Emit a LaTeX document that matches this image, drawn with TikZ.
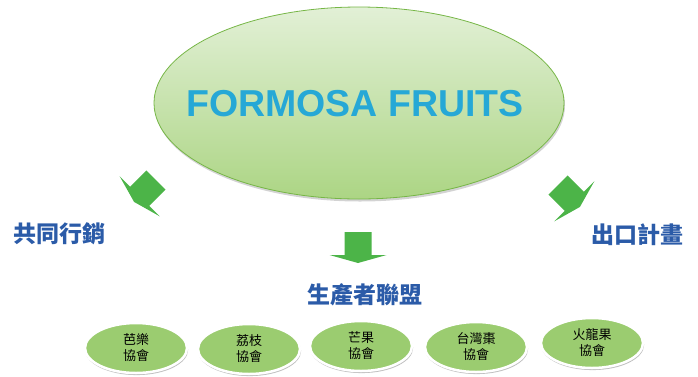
\documentclass[tikz,border=0pt]{standalone}
\usepackage{fontspec}
\setmainfont{Liberation Sans}
\newfontfamily\cjk{Noto Sans CJK TC}
\usetikzlibrary{shapes.geometric,shadows}

\definecolor{hdblue}{RGB}{43,91,168}
\definecolor{arrgreen}{RGB}{76,180,72}
\definecolor{assocgreen}{RGB}{155,204,112}
\definecolor{titlecyan}{RGB}{38,168,214}
\definecolor{ovaltop}{RGB}{226,240,214}
\definecolor{ovalbot}{RGB}{172,213,132}
\definecolor{ovalline}{RGB}{118,182,70}

\begin{document}
\begin{tikzpicture}[x=1pt, y=-1pt,
  hub/.style={ellipse, minimum width=410pt, minimum height=192pt, draw=ovalline,
    line width=0.8pt, top color=ovaltop, bottom color=ovalbot,
    drop shadow={opacity=0.35, shadow xshift=1pt, shadow yshift=-2.5pt}},
  branch/.style={font=\cjk\bfseries\fontsize{23}{27}\selectfont, text=hdblue, inner sep=0pt},
  assoc/.style={ellipse, minimum width=102pt, minimum height=50pt, inner sep=0pt,
    fill=assocgreen, draw=white, line width=2.5pt, align=center,
    font=\cjk\fontsize{13}{16}\selectfont,
    drop shadow={opacity=0.5, shadow xshift=0.6pt, shadow yshift=-1.8pt, shadow scale=1.01}},
  blockarrow/.pic={
    \fill[arrgreen] (-13.5,0) -- (13.5,0) -- (13.5,23) -- (28.5,23) -- (0,31)
      -- (-28.5,23) -- (-13.5,23) -- cycle;
  }]
\useasboundingbox (0,0) rectangle (698,376);

% centre oval
\node[hub] (hub) at (359,103) {};
\node[font=\bfseries\fontsize{37.5}{40}\selectfont, text=titlecyan] (title) at (355,104) {FORMOSA FRUITS};

% arrows
\pic[rotate=-45] (arrL) at (156,180) {blockarrow};
\pic[rotate=45] (arrR) at (558,185) {blockarrow};
\pic (arrD) at (358,232) {blockarrow};

% branches
\node[branch] (sales) at (59,234) {共同行銷};
\node[branch] (export) at (637,235) {出口計畫};
\node[branch] (union) at (365,295) {生產者聯盟};

% associations
\node[assoc] (guava) at (136,348) {芭樂\\協會};
\node[assoc] (lychee) at (249,349) {荔枝\\協會};
\node[assoc] (mango) at (361,346) {芒果\\協會};
\node[assoc] (jujube) at (476,347) {台灣棗\\協會};
\node[assoc] (pitaya) at (592,343) {火龍果\\協會};

\end{tikzpicture}
\end{document}
